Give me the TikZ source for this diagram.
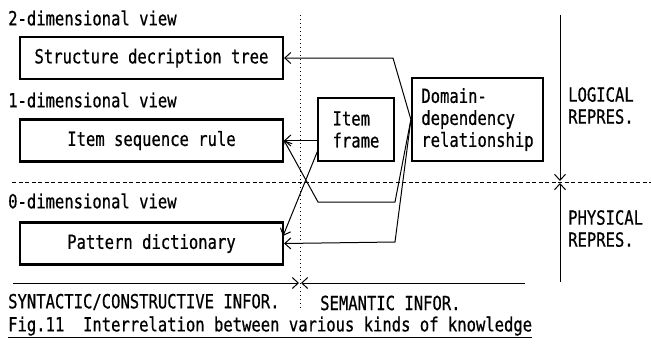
\documentclass[tikz,border=0pt]{standalone}
\usepackage{fontspec}
\setmonofont[FakeStretch=0.797,FakeBold=0.6]{DejaVu Sans Mono}
\usetikzlibrary{arrows.meta}
\begin{document}
\begin{tikzpicture}[x=1pt,y=-1pt,
  tfont/.style={font=\ttfamily\fontsize{19.5}{22}\selectfont},
  txt/.style={tfont, inner sep=0pt, anchor=west},
  mtxt/.style={tfont, inner sep=0pt, anchor=north west, align=left},
  bigbox/.style={draw, line width=2.2pt, tfont, inner sep=0pt, minimum width=263pt, minimum height=42pt},
  smallbox/.style={draw, line width=2.2pt, tfont, inner sep=0pt, align=left},
  conn/.style={line width=1pt, -{Straight Barb[length=6pt,width=11pt]}},
  sep/.style={line width=1pt},
]
\useasboundingbox (0,0) rectangle (651,349);

% labels
\node[txt] (l2) at (8,18) {2-dimensional view};
\node[txt] (l1) at (8,100) {1-dimensional view};
\node[txt] (l0) at (8,201) {0-dimensional view};

% boxes
\node[bigbox] (sdt) at (151.5,58) {Structure decription tree};
\node[bigbox] (isr) at (151.5,140.5) {Item sequence rule};
\node[bigbox] (pd) at (151.5,243.5) {Pattern dictionary};
\node[smallbox, minimum width=76pt, minimum height=63pt] (item) at (356,129.5) {Item\\frame};
\node[smallbox, minimum width=131pt, minimum height=83pt] (dom) at (477.5,119.5) {Domain-\\dependency\\relationship};

% separators
\draw[sep, dash pattern=on 4pt off 2.5pt] (12,182) coordinate (hL) -- (651,182) coordinate (hR);
\draw[sep, dash pattern=on 1.3pt off 2.7pt] (300,15) coordinate (vT) -- (300,308) coordinate (vB);

% connectors
\coordinate (bA) at (393,58);
\coordinate (bB1) at (395,202);
\coordinate (bB2) at (318,202);
\coordinate (bC) at (395,242);
\coordinate (itemLow) at (318,150);
\coordinate (pdIn) at (283,236);
\draw[conn] (dom.west) -- (bA) -- (sdt.east);
\draw[conn] (item.west |- isr.east) -- (isr.east);
\draw[conn] (dom.west) -- (bB1) -- (bB2) -- (isr.east);
\draw[conn] (itemLow) -- (pdIn);
\draw[conn] (dom.west) -- (bC) -- (pd.east);

% right representation arrows
\coordinate (rT) at (560,15);
\coordinate (rM1) at (560,181);
\coordinate (rM2) at (560,183);
\coordinate (rB) at (560,282);
\draw[conn] (rT) -- (rM1);
\draw[conn] (rB) -- (rM2);

% bottom information arrows
\coordinate (bL) at (13,283);
\coordinate (bM1) at (299,283);
\coordinate (bM2) at (301,283);
\coordinate (bR) at (525,283);
\draw[conn] (bL) -- (bM1);
\draw[conn] (bR) -- (bM2);

% side texts
\node[mtxt] (logi) at (568,87) {LOGICAL\\REPRES.};
\node[mtxt] (phys) at (568,210) {PHYSICAL\\REPRES.};
\node[txt] (syn) at (8,302) {SYNTACTIC/CONSTRUCTIVE INFOR.};
\node[txt] (sem) at (320,303) {SEMANTIC INFOR.};
\node[txt] (cap) at (8,327) {\underline{Fig.11\ \ Interrelation between various kinds of knowledge}};
\end{tikzpicture}
\end{document}
